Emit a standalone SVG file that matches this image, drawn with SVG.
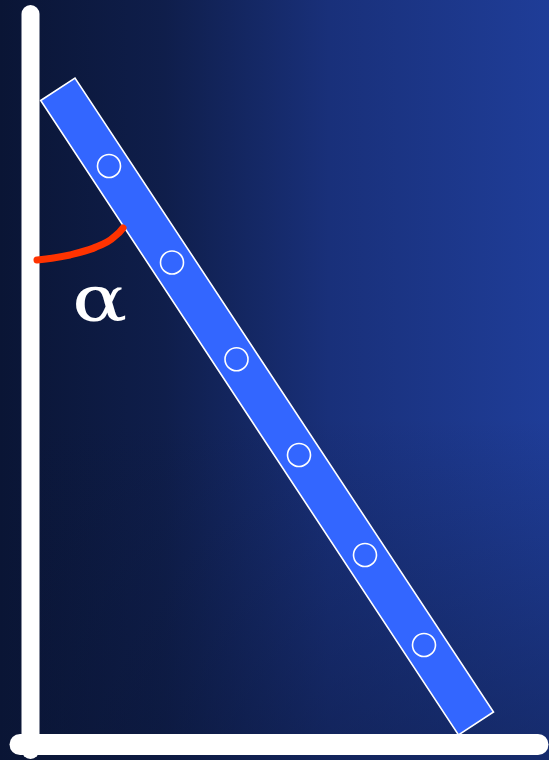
<svg xmlns="http://www.w3.org/2000/svg" width="549" height="760" viewBox="0 0 549 760">
  <defs>
    <linearGradient id="bgH" x1="0" y1="0" x2="1" y2="0">
      <stop offset="0" stop-color="#0a1535"/>
      <stop offset="0.3" stop-color="#0f1e4b"/>
      <stop offset="0.6" stop-color="#19307a"/>
      <stop offset="1" stop-color="#1f3d98"/>
    </linearGradient>
    <linearGradient id="bgV" x1="0" y1="0" x2="0" y2="1">
      <stop offset="0.55" stop-color="#0a1535" stop-opacity="0"/>
      <stop offset="1" stop-color="#0a1535" stop-opacity="0.45"/>
    </linearGradient>
    <style>
      .axis { stroke: #ffffff; stroke-linecap: round; fill: none; }
      .rung { fill: none; stroke: #ffffff; stroke-width: 1.6; }
    </style>
  </defs>
  <rect x="0" y="0" width="549" height="760" fill="url(#bgH)"/>
  <rect x="0" y="0" width="549" height="760" fill="url(#bgV)"/>

  <g id="wall">
    <line class="axis" x1="30.5" y1="14" x2="30.5" y2="750" stroke-width="18"/>
  </g>
  <g id="floor">
    <line class="axis" x1="20" y1="744.5" x2="538" y2="744.5" stroke-width="21"/>
  </g>

  <g id="ladder">
    <polygon points="40.7,100.5 75,78 493.5,712 458.5,735" fill="#3366ff" stroke="#ffffff" stroke-width="1.6" stroke-linejoin="miter"/>
    <circle class="rung" cx="109" cy="166" r="11.5"/>
    <circle class="rung" cx="172" cy="262.5" r="11.5"/>
    <circle class="rung" cx="236.5" cy="359.3" r="11.5"/>
    <circle class="rung" cx="299" cy="455" r="11.5"/>
    <circle class="rung" cx="365" cy="555" r="11.5"/>
    <circle class="rung" cx="424" cy="645" r="11.5"/>
  </g>

  <g id="angle">
    <path d="M37,260 C50,259 60,257 70,255 C80,252 88,251 96,247 C104,244 110,241 114,237 C118,234 121,231 123,228" fill="none" stroke="#ff3300" stroke-width="7" stroke-linecap="round"/>
    <text x="0" y="0" transform="translate(72,321) scale(1.28,1)" font-family="'DejaVu Serif', 'Liberation Serif', serif" font-size="64" fill="#ffffff">α</text>
  </g>
</svg>
